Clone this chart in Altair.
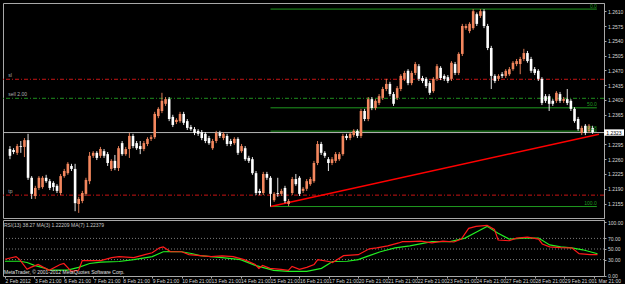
import altair as alt
import pandas as pd

# ---------------- data ----------------
time_labels = ["2 Feb 2012", "3 Feb 21:00", "6 Feb 21:00", "7 Feb 21:00", "8 Feb 21:00",
               "9 Feb 21:00", "10 Feb 21:00", "13 Feb 21:00", "14 Feb 21:00", "15 Feb 21:00",
               "16 Feb 21:00", "17 Feb 21:00", "20 Feb 21:00", "21 Feb 21:00", "22 Feb 21:00",
               "23 Feb 21:00", "24 Feb 21:00", "27 Feb 21:00", "28 Feb 21:00", "29 Feb 21:00",
               "1 Mar 21:00"]
time_label_bars = [0, 8, 16, 24, 32, 40, 48, 56, 64, 72, 80, 88, 96, 104, 112, 120, 128,
                   136, 144, 152, 160]
price_ticks = [1.2155, 1.2190, 1.2225, 1.2260, 1.2295, 1.2365, 1.2400, 1.2435,
               1.2470, 1.2505, 1.2540, 1.2575, 1.2610]
rsi_ticks = [0, 30, 50, 70, 100]
rsi_levels = [30, 50, 70]

bar_open = [
    1.2284, 1.2282, 1.2275, 1.2291, 1.2289, 1.2305, 1.2216, 1.2173, 1.2192, 1.2194,
    1.2216, 1.2208, 1.2204, 1.2197, 1.2180, 1.2220, 1.2227, 1.2244, 1.2237, 1.2154,
    1.2161, 1.2178, 1.2208, 1.2268, 1.2275, 1.2268, 1.2279, 1.2272, 1.2237, 1.2256,
    1.2239, 1.2298, 1.2272, 1.2284, 1.2315, 1.2298, 1.2291, 1.2284, 1.2296, 1.2308,
    1.2312, 1.2362, 1.2374, 1.2391, 1.2402, 1.2360, 1.2348, 1.2350, 1.2367, 1.2350,
    1.2336, 1.2331, 1.2327, 1.2324, 1.2320, 1.2310, 1.2286, 1.2303, 1.2322, 1.2310,
    1.2315, 1.2303, 1.2298, 1.2308, 1.2279, 1.2286, 1.2263, 1.2260, 1.2227, 1.2185,
    1.2180, 1.2225, 1.2216, 1.2163, 1.2180, 1.2178, 1.2192, 1.2154, 1.2180, 1.2213,
    1.2216, 1.2185, 1.2190, 1.2201, 1.2208, 1.2251, 1.2296, 1.2275, 1.2260, 1.2251,
    1.2256, 1.2260, 1.2272, 1.2315, 1.2310, 1.2317, 1.2327, 1.2315, 1.2374, 1.2355,
    1.2402, 1.2381, 1.2393, 1.2405, 1.2426, 1.2438, 1.2414, 1.2405, 1.2426, 1.2450,
    1.2469, 1.2440, 1.2464, 1.2480, 1.2452, 1.2450, 1.2440, 1.2421, 1.2450, 1.2476,
    1.2457, 1.2454, 1.2450, 1.2485, 1.2464, 1.2509, 1.2570, 1.2563, 1.2570, 1.2603,
    1.2599, 1.2610, 1.2575, 1.2523, 1.2457, 1.2450, 1.2461, 1.2457, 1.2461, 1.2473,
    1.2485, 1.2485, 1.2497, 1.2511, 1.2497, 1.2473, 1.2469, 1.2450, 1.2409, 1.2409,
    1.2398, 1.2398, 1.2414, 1.2398, 1.2402, 1.2398, 1.2379, 1.2355, 1.2322, 1.2339,
    1.2327, 1.2334]
bar_close = [
    1.2268, 1.2277, 1.2291, 1.2289, 1.2305, 1.2216, 1.2178, 1.2192, 1.2216, 1.2216,
    1.2208, 1.2192, 1.2194, 1.2185, 1.2220, 1.2232, 1.2249, 1.2237, 1.2156, 1.2166,
    1.2180, 1.2211, 1.2268, 1.2275, 1.2263, 1.2284, 1.2268, 1.2251, 1.2256, 1.2239,
    1.2286, 1.2272, 1.2284, 1.2315, 1.2291, 1.2286, 1.2284, 1.2298, 1.2308, 1.2312,
    1.2367, 1.2379, 1.2398, 1.2402, 1.2355, 1.2341, 1.2353, 1.2367, 1.2346, 1.2334,
    1.2331, 1.2322, 1.2320, 1.2310, 1.2303, 1.2298, 1.2303, 1.2322, 1.2315, 1.2320,
    1.2296, 1.2296, 1.2308, 1.2275, 1.2291, 1.2260, 1.2256, 1.2227, 1.2180, 1.2180,
    1.2225, 1.2216, 1.2178, 1.2178, 1.2178, 1.2185, 1.2161, 1.2161, 1.2213, 1.2201,
    1.2178, 1.2190, 1.2208, 1.2213, 1.2251, 1.2296, 1.2275, 1.2268, 1.2251, 1.2260,
    1.2272, 1.2272, 1.2315, 1.2310, 1.2320, 1.2327, 1.2315, 1.2374, 1.2355, 1.2402,
    1.2381, 1.2398, 1.2409, 1.2426, 1.2438, 1.2414, 1.2391, 1.2428, 1.2457, 1.2464,
    1.2440, 1.2464, 1.2485, 1.2450, 1.2445, 1.2433, 1.2417, 1.2450, 1.2480, 1.2452,
    1.2450, 1.2445, 1.2488, 1.2464, 1.2509, 1.2575, 1.2575, 1.2580, 1.2610, 1.2580,
    1.2610, 1.2575, 1.2523, 1.2457, 1.2445, 1.2457, 1.2457, 1.2469, 1.2473, 1.2488,
    1.2492, 1.2497, 1.2511, 1.2492, 1.2469, 1.2464, 1.2450, 1.2393, 1.2398, 1.2391,
    1.2391, 1.2417, 1.2398, 1.2402, 1.2393, 1.2379, 1.2350, 1.2331, 1.2334, 1.2322,
    1.2339, 1.2324]
bar_high = [
    1.2291, 1.2286, 1.2296, 1.2303, 1.2310, 1.2320, 1.2220, 1.2197, 1.2220, 1.2220,
    1.2223, 1.2213, 1.2208, 1.2201, 1.2225, 1.2237, 1.2253, 1.2249, 1.2249, 1.2171,
    1.2185, 1.2216, 1.2277, 1.2279, 1.2279, 1.2289, 1.2284, 1.2277, 1.2260, 1.2270,
    1.2291, 1.2303, 1.2289, 1.2322, 1.2320, 1.2303, 1.2303, 1.2303, 1.2312, 1.2317,
    1.2372, 1.2383, 1.2417, 1.2407, 1.2407, 1.2365, 1.2357, 1.2372, 1.2372, 1.2355,
    1.2341, 1.2336, 1.2331, 1.2329, 1.2324, 1.2315, 1.2308, 1.2327, 1.2327, 1.2324,
    1.2320, 1.2308, 1.2312, 1.2312, 1.2296, 1.2291, 1.2268, 1.2265, 1.2232, 1.2190,
    1.2230, 1.2230, 1.2220, 1.2182, 1.2216, 1.2190, 1.2197, 1.2166, 1.2218, 1.2225,
    1.2220, 1.2194, 1.2213, 1.2218, 1.2256, 1.2303, 1.2301, 1.2279, 1.2265, 1.2265,
    1.2277, 1.2277, 1.2320, 1.2320, 1.2324, 1.2331, 1.2331, 1.2379, 1.2379, 1.2407,
    1.2407, 1.2402, 1.2414, 1.2431, 1.2450, 1.2443, 1.2419, 1.2433, 1.2461, 1.2469,
    1.2473, 1.2469, 1.2490, 1.2485, 1.2457, 1.2454, 1.2445, 1.2454, 1.2485, 1.2480,
    1.2461, 1.2459, 1.2492, 1.2490, 1.2513, 1.2580, 1.2580, 1.2584, 1.2615, 1.2607,
    1.2615, 1.2615, 1.2580, 1.2528, 1.2461, 1.2461, 1.2466, 1.2473, 1.2478, 1.2492,
    1.2497, 1.2502, 1.2521, 1.2516, 1.2502, 1.2478, 1.2473, 1.2454, 1.2414, 1.2414,
    1.2402, 1.2421, 1.2419, 1.2407, 1.2426, 1.2402, 1.2383, 1.2360, 1.2339, 1.2343,
    1.2343, 1.2339]
bar_low = [
    1.2260, 1.2272, 1.2270, 1.2275, 1.2265, 1.2211, 1.2166, 1.2166, 1.2187, 1.2190,
    1.2204, 1.2187, 1.2185, 1.2180, 1.2175, 1.2216, 1.2223, 1.2232, 1.2137, 1.2133,
    1.2156, 1.2173, 1.2201, 1.2263, 1.2258, 1.2263, 1.2263, 1.2244, 1.2232, 1.2234,
    1.2232, 1.2268, 1.2268, 1.2263, 1.2286, 1.2282, 1.2272, 1.2279, 1.2291, 1.2303,
    1.2308, 1.2357, 1.2369, 1.2386, 1.2350, 1.2336, 1.2343, 1.2346, 1.2341, 1.2329,
    1.2327, 1.2317, 1.2315, 1.2305, 1.2298, 1.2294, 1.2282, 1.2298, 1.2310, 1.2305,
    1.2291, 1.2291, 1.2294, 1.2270, 1.2275, 1.2256, 1.2251, 1.2223, 1.2175, 1.2175,
    1.2175, 1.2211, 1.2148, 1.2159, 1.2171, 1.2173, 1.2156, 1.2149, 1.2175, 1.2197,
    1.2173, 1.2180, 1.2185, 1.2197, 1.2204, 1.2246, 1.2270, 1.2263, 1.2232, 1.2246,
    1.2251, 1.2256, 1.2268, 1.2305, 1.2305, 1.2312, 1.2310, 1.2310, 1.2350, 1.2350,
    1.2376, 1.2376, 1.2388, 1.2400, 1.2421, 1.2409, 1.2386, 1.2400, 1.2421, 1.2445,
    1.2435, 1.2435, 1.2459, 1.2445, 1.2440, 1.2428, 1.2412, 1.2417, 1.2445, 1.2447,
    1.2445, 1.2440, 1.2445, 1.2459, 1.2459, 1.2504, 1.2566, 1.2558, 1.2566, 1.2575,
    1.2594, 1.2570, 1.2518, 1.2426, 1.2440, 1.2445, 1.2452, 1.2452, 1.2457, 1.2469,
    1.2480, 1.2461, 1.2492, 1.2488, 1.2464, 1.2459, 1.2445, 1.2388, 1.2393, 1.2374,
    1.2386, 1.2393, 1.2393, 1.2393, 1.2388, 1.2374, 1.2346, 1.2327, 1.2317, 1.2317,
    1.2322, 1.2320]

rsi_red_bar = [0, 3, 4, 6, 7, 9, 11, 12, 15, 16, 17, 18, 20, 21, 23, 26, 29, 31, 35, 38,
               40, 42, 43, 45, 48, 50, 53, 56, 59, 62, 65, 68, 69, 70, 72, 75, 77, 78, 80, 82,
               84, 85, 88, 89, 92, 96, 99, 101, 104, 107, 108, 110, 113, 116, 119, 122, 124,
               126, 128, 131, 133, 134, 137, 139, 142, 145, 146, 148, 151, 154, 156, 159, 161]
rsi_red = [30.6, 35.6, 30.0, 11.6, 15.3, 20.8, 13.5, 9.8, 20.8, 22.7, 15.3, 8.0, 9.8, 28.2,
           28.2, 28.2, 33.7, 35.6, 33.7, 39.3, 42.9, 52.2, 54.0, 44.8, 44.8, 39.3, 37.4, 35.6,
           37.0, 35.6, 30.0, 20.8, 13.5, 19.0, 13.5, 11.6, 9.8, 17.1, 11.6, 15.3, 20.8, 30.0,
           26.4, 24.5, 37.4, 39.3, 50.3, 52.2, 55.9, 61.4, 63.8, 63.8, 65.0, 61.4, 65.0, 63.2,
           68.7, 89.0, 92.7, 94.6, 87.0, 66.9, 65.6, 70.6, 72.4, 68.7, 59.5, 54.0, 52.7, 52.2,
           41.1, 39.3, 39.3]
rsi_green_bar = [0, 4, 6, 8, 11, 12, 17, 20, 23, 26, 31, 35, 40, 43, 45, 48, 51, 53, 56, 59,
                 64, 68, 73, 77, 82, 86, 89, 93, 96, 99, 102, 106, 110, 116, 121, 125, 128,
                 131, 134, 137, 141, 145, 148, 151, 154, 157, 161]
rsi_green = [26.9, 26.9, 24.5, 19.0, 13.5, 10.3, 10.3, 15.3, 22.7, 25.1, 26.4, 30.0, 35.6,
             44.8, 45.3, 44.8, 41.1, 37.4, 35.6, 33.7, 30.0, 19.0, 9.8, 7.9, 7.9, 13.5, 26.4,
             26.9, 30.0, 37.4, 44.8, 52.2, 55.9, 63.8, 63.8, 70.6, 81.7, 92.7, 79.8, 68.7,
             70.6, 70.6, 57.7, 54.0, 52.2, 48.5, 41.1]

sl_price = 1.2449
entry_price = 1.2404
tp_price = 1.2175
bid_price = 1.2323
fib_low_bar, fib_low = 72, 1.2148
fib_high_bar, fib_high = 130, 1.2615
fib_levels = [0.0, 50.0, 61.8, 100.0]
trend_bars = [72, 162.77]
trend_prices = [1.2148, 1.2319]

rsi_header = "RSI(13) 38.27  MA(3) 1.22209  MA(7) 1.22379"
copyright_text = "MetaTrader, \u00a9 2001-2012 MetaQuotes Software Corp."

# ---------------- style ----------------
BG = "#000000"
FRAME = "#a8a8a8"
TXT = "#d8d8d8"
UP = "#f4875e"
DOWN = "#ffffff"
FIB = "#1f9a1f"
RED_DASH = "#c81414"
GREEN_DASH = "#1f8f1f"
FONT = "Liberation Sans Narrow, Liberation Sans, Arial"

X_DOMAIN = [-0.54, 162.77]
xs = alt.Scale(domain=X_DOMAIN, nice=False, zero=False)
ps = alt.Scale(domain=[1.21209, 1.26294], nice=False, zero=False)
rs = alt.Scale(domain=[-0.94, 104.7], nice=False, zero=False)

pax = alt.Axis(orient="right", values=price_ticks, format=".4f", title=None, grid=False,
               labelFontSize=5, labelFont=FONT, labelColor=TXT, tickColor=FRAME,
               domainColor=FRAME, tickSize=2, labelPadding=1.5, labelOverlap=False,
               labelFlush=False)
rax = alt.Axis(orient="right", values=rsi_ticks, format=".2f", title=None, grid=False,
               labelFontSize=5, labelFont=FONT, labelColor=TXT, tickColor=FRAME,
               domainColor=FRAME, tickSize=2, labelPadding=1.5, labelOverlap=False,
               labelFlush=False)
label_js = "[" + ",".join("'" + t + "'" for t in time_labels) + "]"
xax = alt.Axis(values=time_label_bars, labelExpr=label_js + "[round(datum.value/8)]",
               title=None, grid=False, domain=False, labelAlign="left", labelFontSize=5,
               labelFont=FONT, labelColor=TXT, tickColor=FRAME, tickSize=2, labelPadding=0.5,
               labelOverlap=False, labelFlush=False, labelBound=False)

def XP(field=None, datum=None):
    if datum is not None:
        return alt.X(datum=datum, type="quantitative", scale=xs, axis=None)
    return alt.X(field, type="quantitative", scale=xs, axis=None)

def YP(field=None, datum=None):
    if datum is not None:
        return alt.Y(datum=datum, type="quantitative", scale=ps, axis=pax)
    return alt.Y(field, type="quantitative", scale=ps, axis=pax)

# ---------------- main panel ----------------
bars = pd.DataFrame({"bar": list(range(len(bar_open))), "open": bar_open,
                     "high": bar_high, "low": bar_low, "close": bar_close})
bars["dir"] = ["up" if c >= o else "down" for o, c in zip(bar_open, bar_close)]
col = alt.Color("dir:N", scale=alt.Scale(domain=["up", "down"], range=[UP, DOWN]), legend=None)

base = alt.Chart(bars)
wicks = base.mark_rule(strokeWidth=0.9).encode(x=XP("bar"), y=YP("low"), y2="high", color=col)
bodies = base.mark_bar(size=2.6).encode(x=XP("bar"), y=YP("open"), y2="close", color=col)

bid_line = alt.Chart(pd.DataFrame({"p": [bid_price]})).mark_rule(
    color="#b4b4b4", strokeWidth=1).encode(y=YP("p"))

fib_df = pd.DataFrame({
    "level": fib_levels,
    "price": [fib_high - (fib_high - fib_low) * lv / 100.0 for lv in fib_levels],
    "label": ["%.1f" % lv for lv in fib_levels],
    "x0": [fib_low_bar] * len(fib_levels),
    "x1": [X_DOMAIN[1] - 0.6] * len(fib_levels),
})
fib_rules = alt.Chart(fib_df).mark_rule(color=FIB, strokeWidth=1).encode(
    x=XP("x0"), x2="x1", y=YP("price"))
fib_text = alt.Chart(fib_df).mark_text(
    color=FIB, fontSize=5, font=FONT, align="right", baseline="bottom", dy=-0.5).encode(
    x=XP("x1"), y=YP("price"), text="label")

order_df = pd.DataFrame({"price": [sl_price, tp_price, entry_price],
                         "kind": ["sl", "tp", "entry"]})
red_lines = alt.Chart(order_df[order_df.kind != "entry"]).mark_rule(
    color=RED_DASH, strokeWidth=1, strokeDash=[4, 2, 1, 2]).encode(y=YP("price"))
green_line = alt.Chart(order_df[order_df.kind == "entry"]).mark_rule(
    color=GREEN_DASH, strokeWidth=1, strokeDash=[4, 2, 1, 2]).encode(y=YP("price"))

order_lbl = pd.DataFrame({"price": [sl_price, entry_price, tp_price],
                          "txt": ["sl", "sell 2.00", "tp"],
                          "bar": [-0.45, -0.45, -0.45]})
order_text = alt.Chart(order_lbl).mark_text(
    color="#b0b0b0", fontSize=5, font=FONT, align="left", baseline="bottom", dy=-1).encode(
    x=XP("bar"), y=YP("price"), text="txt")

trend = alt.Chart(pd.DataFrame({"bar": trend_bars, "price": trend_prices})).mark_line(
    color="#ff0000", strokeWidth=1.4).encode(x=XP("bar"), y=YP("price"))

bid_box = alt.Chart(pd.DataFrame({"p": [bid_price]})).mark_point(
    shape="M-1,-0.32L1,-0.32L1,0.32L-1,0.32Z", size=400, filled=True, opacity=1,
    color="#ffffff").encode(x=alt.value(611), y=YP("p"))
bid_txt = alt.Chart(pd.DataFrame({"p": [bid_price], "t": ["%.4f" % bid_price]})).mark_text(
    color="#000000", fontSize=5, font=FONT, align="center", baseline="middle").encode(
    x=alt.value(611), y=YP("p"), text="t")

main = alt.layer(bid_line, fib_rules, red_lines, green_line, trend, wicks, bodies,
                 fib_text, order_text, bid_box, bid_txt).properties(width=601, height=215)

# ---------------- RSI panel ----------------
def YR(field=None, datum=None):
    if datum is not None:
        return alt.Y(datum=datum, type="quantitative", scale=rs, axis=rax)
    return alt.Y(field, type="quantitative", scale=rs, axis=rax)

def XR(field):
    return alt.X(field, type="quantitative", scale=xs, axis=xax)

lev = alt.Chart(pd.DataFrame({"v": rsi_levels, "bar": [0, 0, 0]})).mark_rule(
    color="#9a9a9a", strokeWidth=0.8, strokeDash=[1, 2]).encode(y=YR("v"))
red_df = pd.DataFrame({"bar": rsi_red_bar, "v": rsi_red})
green_df = pd.DataFrame({"bar": rsi_green_bar, "v": rsi_green})
red_l = alt.Chart(red_df).mark_line(color="#ff1a1a", strokeWidth=1.2).encode(x=XR("bar"), y=YR("v"))
green_l = alt.Chart(green_df).mark_line(color="#22ee22", strokeWidth=1.2).encode(x=XR("bar"), y=YR("v"))
hdr = alt.Chart(pd.DataFrame({"t": [rsi_header]})).mark_text(
    color="#c8c8c8", fontSize=5, font=FONT, align="left", baseline="top").encode(
    x=alt.value(1), y=alt.value(3), text="t")
cpy = alt.Chart(pd.DataFrame({"t": [copyright_text]})).mark_text(
    color="#e0e0e0", fontSize=5, font=FONT, align="left", baseline="bottom").encode(
    x=alt.value(1), y=alt.value(55), text="t")

rsi = alt.layer(lev, green_l, red_l, hdr, cpy).properties(width=601, height=56)

chart = alt.vconcat(main, rsi, spacing=0).resolve_scale(x="independent").properties(
    background=BG, padding={"left": 2, "top": 2, "right": 0, "bottom": 0}
).configure_view(stroke=FRAME, strokeWidth=1)

chart.save("out.html", embed_options={"renderer": "svg", "actions": False})
